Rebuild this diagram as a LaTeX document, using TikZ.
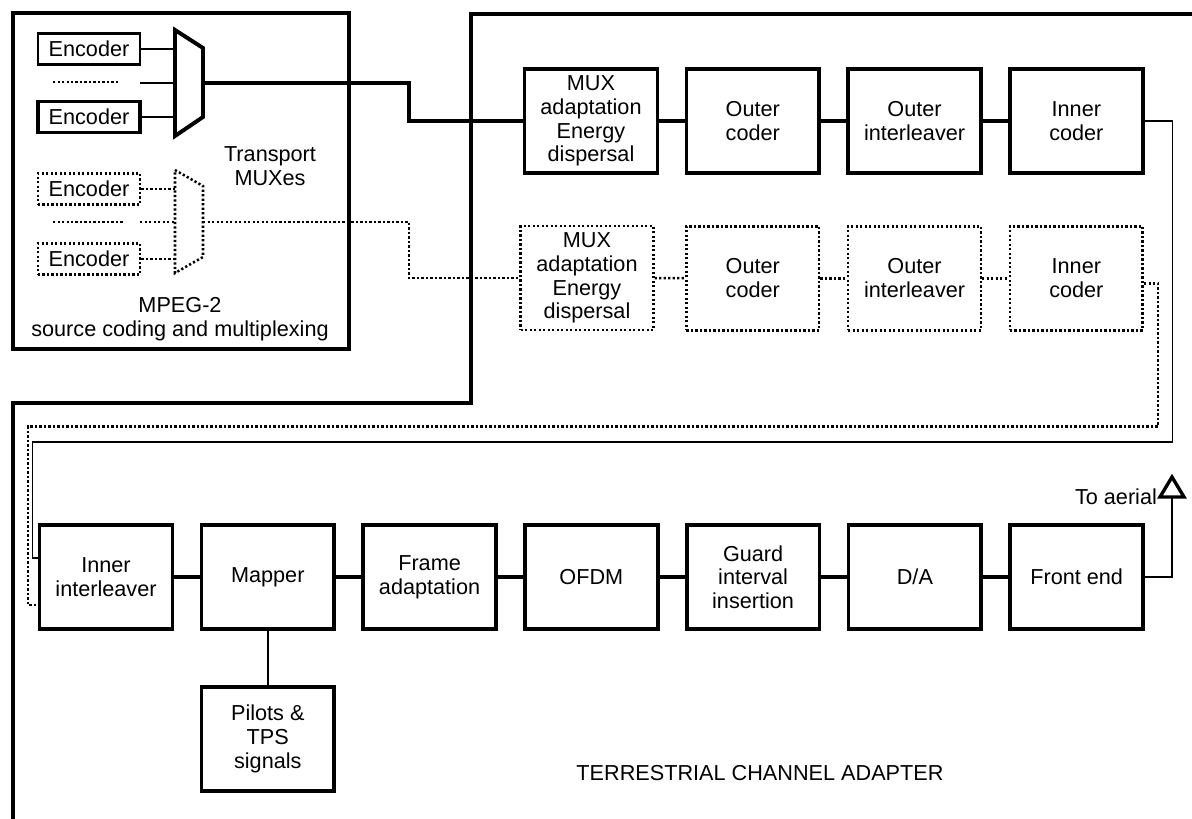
\documentclass[tikz,border=0pt]{standalone}
\usepackage{fontspec}
\setmainfont{Liberation Sans}
\usetikzlibrary{positioning,calc}

\begin{document}
\begin{tikzpicture}[x=0.025cm, y=-0.025cm, node distance=0.632cm,
    font=\fontsize{15.4}{16.8}\selectfont,
    block/.style={rectangle, draw, line width=2.6pt, minimum width=3.32cm, minimum height=2.6cm, align=center},
    dotline/.style={line width=1.8pt, dash pattern=on 1.6pt off 1.6pt},
    ghost/.style={block, dotline},
    enc/.style={rectangle, draw, minimum width=2.55cm, minimum height=0.78cm},
    wire/.style={line width=2.4pt},
    thinwire/.style={line width=1.1pt}]
    \useasboundingbox (0,0) rectangle (1192,819);

    % source coding and multiplexing
    \draw [line width=2.6pt] (13,13) rectangle (349,349);
    \node (enc1) [enc, line width=1.8pt] at (89,49) {Encoder};
    \node (enc2) [enc, line width=2.4pt] at (89,117) {Encoder};
    \node (enc3) [enc, dotline] at (89,189) {Encoder};
    \node (enc4) [enc, dotline] at (89,259) {Encoder};

    \draw [line width=2.8pt] (175,30) -- (203,48) -- (203,117) -- (175,136) -- cycle;
    \draw [dotline] (175,170) -- (203,186) -- (203,257) -- (175,273) -- cycle;
    \coordinate (muxa) at (175,83);
    \coordinate (muxaout) at (203,83);
    \coordinate (muxb) at (175,222);
    \coordinate (muxbout) at (203,222);
    \coordinate (dotsa) at (53,82);
    \coordinate (dotsb) at (53,222);
    \coordinate (gapa) at (140,83);
    \coordinate (gapb) at (140,222);

    \draw [thinwire] (enc1.east) -- (enc1.east -| muxa);
    \draw [thinwire] (enc2.east) -- (enc2.east -| muxa);
    \draw [thinwire] (gapa) -- (muxa);
    \draw [dotline, line width=1.2pt] (dotsa) -- ++(67,0);
    \draw [dotline] (enc3.east) -- (enc3.east -| muxb);
    \draw [dotline] (enc4.east) -- (enc4.east -| muxb);
    \draw [dotline] (gapb) -- (muxb);
    \draw [dotline, line width=1.2pt] (dotsb) -- ++(70,0);

    \node (tmux) [align=center] at (270,166) {Transport\\MUXes};
    \node (mpeg) [align=center] at (180,319) {MPEG-2\\source coding and multiplexing};

    % terrestrial channel adapter
    \draw [line width=2.6pt] (13,819) -- (13,403) -- (471,403) -- (471,14) -- (1192,14);

    \node (mux1) [block] at (591,121) {MUX\\adaptation\\Energy\\dispersal};
    \node (ocod1) [block, right=of mux1] {Outer\\coder};
    \node (oint1) [block, right=of ocod1] {Outer\\interleaver};
    \node (icod1) [block, right=of oint1] {Inner\\coder};

    \node (mux2) [ghost] at (587,278) {MUX\\adaptation\\Energy\\dispersal};
    \node (ocod2) [ghost, below=1.255cm of ocod1] {Outer\\coder};
    \node (oint2) [ghost, below=1.255cm of oint1] {Outer\\interleaver};
    \node (icod2) [ghost, below=1.255cm of icod1] {Inner\\coder};

    \draw [wire] (muxaout) -- ++(206,0) |- (mux1.west);
    \draw [dotline] (muxbout) -- ++(206,0) |- (mux2.west);
    \foreach \a/\b in {mux1/ocod1, ocod1/oint1, oint1/icod1}
        \draw [wire] (\a) -- (\b);
    \foreach \a/\b in {mux2/ocod2, ocod2/oint2, oint2/icod2}
        \draw [dotline] (\a) -- (\b);

    \node (iint) [block] at (106,577) {Inner\\interleaver};
    \node (mapper) [block, right=of iint] {Mapper};
    \node (frame) [block, right=of mapper] {Frame\\adaptation};
    \node (ofdm) [block, right=of frame] {OFDM};
    \node (guard) [block, right=of ofdm] {Guard\\interval\\insertion};
    \node (da) [block, right=of guard] {D/A};
    \node (front) [block, right=of da] {Front end};
    \node (pilots) [block, below=1.358cm of mapper] {Pilots \&\\TPS\\signals};

    \foreach \a/\b in {iint/mapper, mapper/frame, frame/ofdm, ofdm/guard, guard/da, da/front}
        \draw [wire] (\a) -- (\b);
    \draw [line width=1.8pt] (mapper) -- (pilots);

    \draw [thinwire] (icod1.east) -- ++(28,0) |- ++(-1140,321) |- ([yshift=0.475cm]iint.west);
    \draw [dotline] ([yshift=-0.125cm]icod2.east) -- ++(14,0) |- ++(-1130,143) |- ([yshift=-0.7cm]iint.west);

    \coordinate (aerial) at (1172,497);
    \draw [line width=1.8pt] (front.east) -| (aerial);
    \draw [line width=2.4pt] (aerial) -- ++(12,0) -- ++(-12,-20) -- ++(-12,20) -- cycle;
    \node (toaer) [left=0.3cm of aerial, inner sep=2pt] {To aerial};

    \node (tca) at (760,773) {TERRESTRIAL CHANNEL ADAPTER};
\end{tikzpicture}
\end{document}
